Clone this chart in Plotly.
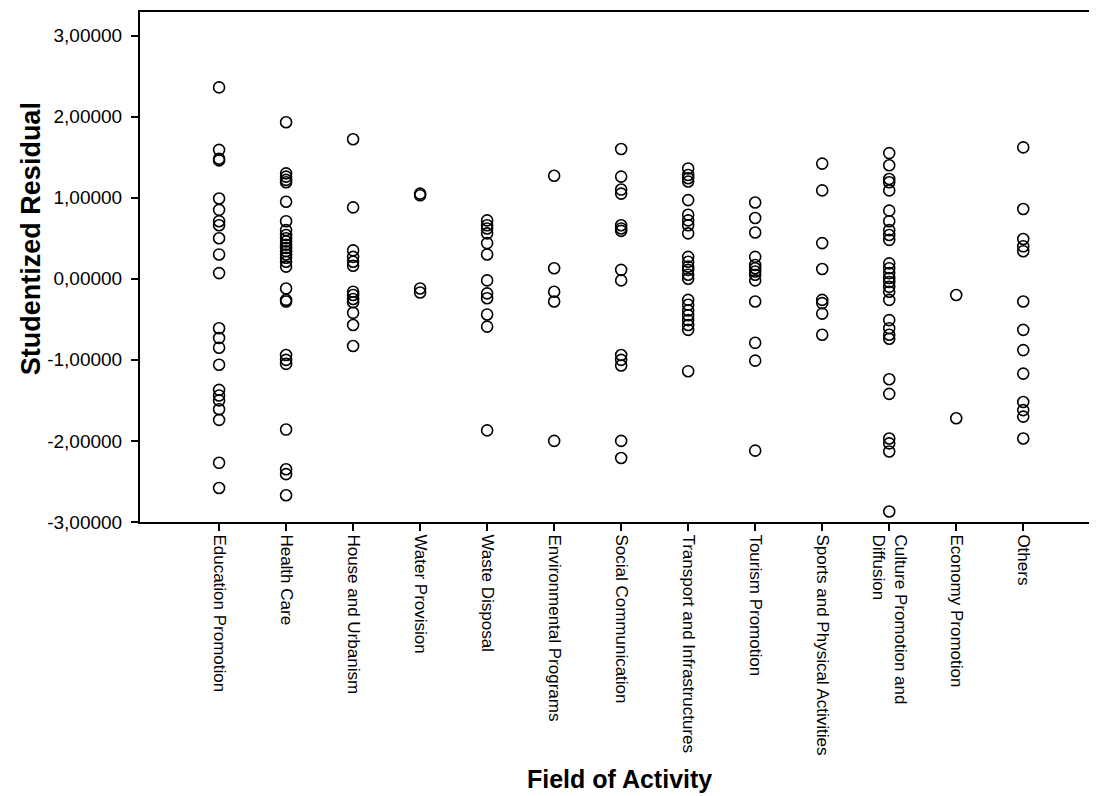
import plotly.graph_objects as go

categories = [
    "Education Promotion", "Health Care", "House and Urbanism", "Water Provision",
    "Waste Disposal", "Environmental Programs", "Social Communication",
    "Transport and Infrastructures", "Tourism Promotion", "Sports and Physical Activities",
    "Culture Promotion and<br>Diffusion", "Economy Promotion", "Others",
]

education = [2.36, 1.59, 1.48, 1.46, 0.99, 0.85, 0.71, 0.66, 0.50, 0.30, 0.07, -0.61, -0.73,
             -0.85, -1.06, -1.37, -1.44, -1.50, -1.61, -1.74, -2.27, -2.58]
health = [1.93, 1.30, 1.26, 1.22, 1.19, 0.95, 0.71, 0.60, 0.54, 0.50, 0.46, 0.42, 0.38, 0.34,
          0.30, 0.26, 0.21, 0.15, -0.12, -0.26, -0.28, -0.94, -1.00, -1.05, -1.86, -2.35,
          -2.41, -2.67]
house = [1.72, 0.88, 0.35, 0.27, 0.21, 0.16, -0.16, -0.20, -0.25, -0.29, -0.42, -0.57, -0.83]
water = [1.05, 1.03, -0.12, -0.17]
waste = [0.72, 0.66, 0.62, 0.56, 0.44, 0.30, -0.02, -0.18, -0.24, -0.44, -0.59, -1.87]
environmental = [1.27, 0.13, -0.16, -0.28, -2.00]
social = [1.60, 1.26, 1.10, 1.05, 0.66, 0.62, 0.59, 0.11, -0.02, -0.94, -1.00, -1.07, -2.00, -2.21]
transport = [1.36, 1.28, 1.24, 1.20, 0.97, 0.79, 0.72, 0.66, 0.56, 0.27, 0.21, 0.15, 0.11, 0.05,
             0.00, -0.26, -0.32, -0.39, -0.45, -0.51, -0.57, -0.63, -1.14]
tourism = [0.94, 0.75, 0.57, 0.27, 0.17, 0.13, 0.09, 0.05, -0.02, -0.28, -0.79, -1.01, -2.12]
sports = [1.42, 1.09, 0.44, 0.12, -0.26, -0.30, -0.43, -0.69]
culture = [1.55, 1.40, 1.23, 1.19, 1.09, 0.84, 0.71, 0.60, 0.54, 0.48, 0.19, 0.13, 0.07, 0.01,
           -0.04, -0.10, -0.16, -0.26, -0.51, -0.61, -0.69, -0.74, -1.24, -1.42, -1.97, -2.03,
           -2.13, -2.87]
economy = [-0.20, -1.72]
others = [1.62, 0.86, 0.49, 0.40, 0.34, -0.28, -0.63, -0.88, -1.17, -1.52, -1.62, -1.70, -1.97]

series = [education, health, house, water, waste, environmental, social, transport,
          tourism, sports, culture, economy, others]

y_tickvals = [3, 2, 1, 0, -1, -2, -3]
y_ticktext = ["3,00000", "2,00000", "1,00000", "0,00000", "-1,00000", "-2,00000", "-3,00000"]

x_title = "Field of Activity"
y_title = "Studentized Residual"

xs, ys = [], []
for i, vals in enumerate(series):
    xs.extend([i] * len(vals))
    ys.extend(vals)

fig = go.Figure(go.Scatter(
    x=xs, y=ys, mode="markers",
    marker=dict(symbol="circle-open", size=11, color="black", line=dict(width=1.6, color="black")),
    showlegend=False, hoverinfo="y",
))

FONT = "Liberation Sans, Arial, sans-serif"

fig.update_layout(
    width=1097, height=796,
    margin=dict(l=132, r=0, t=4, b=282),
    paper_bgcolor="white", plot_bgcolor="white",
    font=dict(family=FONT, color="black"),
    xaxis=dict(
        range=[-1.18, 13.22],
        tickmode="array", tickvals=list(range(len(categories))), ticktext=categories,
        tickangle=90, tickfont=dict(size=17, family=FONT, color="black"),
        ticks="outside", ticklen=7, tickwidth=1.5, tickcolor="black",
        showline=True, linecolor="black", linewidth=2, mirror=True,
        showgrid=False, zeroline=False,
    ),
    yaxis=dict(
        range=[-3.0, 3.29],
        tickmode="array", tickvals=y_tickvals, ticktext=y_ticktext,
        tickfont=dict(size=19, family=FONT, color="black"),
        ticks="outside", ticklen=7, tickwidth=1.5, tickcolor="black",
        ticklabelstandoff=5,
        showline=True, linecolor="black", linewidth=2,
        showgrid=False, zeroline=False,
    ),
    annotations=[
        dict(text="<b>" + x_title + "</b>", xref="paper", yref="paper",
             x=0.497, y=-0.504, xanchor="center", yanchor="middle", showarrow=False,
             font=dict(size=25, family=FONT, color="black")),
        dict(text="<b>" + y_title + "</b>", xref="paper", yref="paper",
             x=-0.113, y=0.5565, xanchor="center", yanchor="middle", showarrow=False,
             textangle=-90, font=dict(size=27, family=FONT, color="black")),
    ],
)

fig.write_html("out.html")
